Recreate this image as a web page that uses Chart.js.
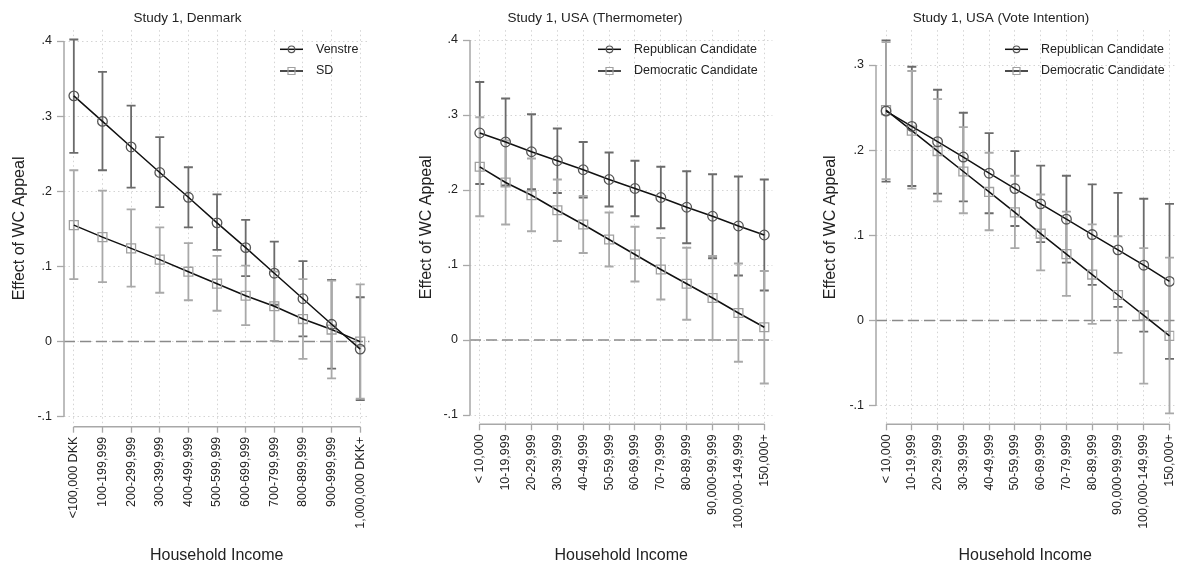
<!DOCTYPE html>
<html>
<head>
<meta charset="utf-8">
<script src="https://cdn.jsdelivr.net/npm/chart.js@4.4.1/dist/chart.umd.min.js"></script>
<style>
  body { margin: 0; background: #fff; }
  #wrap { position: relative; width: 1182px; height: 564px; }
  canvas { position: absolute; top: 0; }
</style>
</head>
<body>
<div id="wrap">
  <canvas id="dkChart" width="377" height="564" style="left:0px"></canvas>
  <canvas id="thermChart" width="370" height="564" style="left:410px"></canvas>
  <canvas id="voteChart" width="362" height="564" style="left:820px"></canvas>
</div>
<script>
// income categories
const dkIncome = ['<100,000 DKK', '100-199,999', '200-299,999', '300-399,999', '400-499,999', '500-599,999',
    '600-699,999', '700-799,999', '800-899,999', '900-999,999', '1,000,000 DKK+'];
const usIncome = ['< 10,000', '10-19,999', '20-29,999', '30-39,999', '40-49,999', '50-59,999', '60-69,999',
    '70-79,999', '80-89,999', '90,000-99,999', '100,000-149,999', '150,000+'];

// y ticks
const dkTicks = [0.4, 0.3, 0.2, 0.1, 0, -0.1];
const dkTickLabels = ['.4', '.3', '.2', '.1', '0', '-.1'];
const thermTicks = [0.4, 0.3, 0.2, 0.1, 0, -0.1];
const thermTickLabels = ['.4', '.3', '.2', '.1', '0', '-.1'];
const voteTicks = [0.3, 0.2, 0.1, 0, -0.1];
const voteTickLabels = ['.3', '.2', '.1', '0', '-.1'];

// Study 1, Denmark
const venstreEst = [0.327, 0.293, 0.259, 0.225, 0.192, 0.158, 0.125, 0.091, 0.057, 0.023, -0.010];
const venstreHi  = [0.402, 0.359, 0.314, 0.272, 0.232, 0.196, 0.162, 0.133, 0.107, 0.082, 0.059];
const venstreLo  = [0.251, 0.228, 0.205, 0.179, 0.152, 0.122, 0.087, 0.049, 0.007, -0.036, -0.078];
const sdEst = [0.155, 0.139, 0.124, 0.109, 0.093, 0.077, 0.061, 0.047, 0.030, 0.016, 0.000];
const sdHi  = [0.228, 0.201, 0.176, 0.152, 0.131, 0.114, 0.101, 0.093, 0.083, 0.081, 0.076];
const sdLo  = [0.083, 0.079, 0.073, 0.065, 0.055, 0.041, 0.022, 0.001, -0.023, -0.049, -0.076];

// Study 1, USA (Thermometer)
const thermRepEst = [0.276, 0.264, 0.251, 0.239, 0.227, 0.214, 0.202, 0.190, 0.177, 0.165, 0.152, 0.140];
const thermRepHi  = [0.344, 0.322, 0.301, 0.282, 0.264, 0.250, 0.239, 0.231, 0.225, 0.221, 0.218, 0.214];
const thermRepLo  = [0.208, 0.206, 0.201, 0.196, 0.190, 0.178, 0.165, 0.149, 0.129, 0.109, 0.086, 0.066];
const thermDemEst = [0.231, 0.210, 0.193, 0.173, 0.154, 0.134, 0.114, 0.094, 0.075, 0.056, 0.036, 0.017];
const thermDemHi  = [0.297, 0.266, 0.242, 0.214, 0.192, 0.170, 0.151, 0.136, 0.123, 0.112, 0.102, 0.092];
const thermDemLo  = [0.165, 0.154, 0.145, 0.132, 0.116, 0.098, 0.078, 0.054, 0.027, 0.000, -0.029, -0.058];

// Study 1, USA (Vote Intention)
const voteRepEst = [0.246, 0.228, 0.210, 0.192, 0.173, 0.155, 0.137, 0.119, 0.101, 0.083, 0.065, 0.046];
const voteRepHi  = [0.329, 0.298, 0.271, 0.244, 0.220, 0.199, 0.182, 0.170, 0.160, 0.150, 0.143, 0.137];
const voteRepLo  = [0.163, 0.158, 0.149, 0.140, 0.126, 0.111, 0.092, 0.068, 0.042, 0.016, -0.013, -0.045];
const voteDemEst = [0.247, 0.223, 0.199, 0.175, 0.151, 0.127, 0.102, 0.078, 0.054, 0.030, 0.006, -0.018];
const voteDemHi  = [0.327, 0.293, 0.260, 0.227, 0.197, 0.170, 0.148, 0.128, 0.113, 0.099, 0.085, 0.074];
const voteDemLo  = [0.166, 0.155, 0.140, 0.126, 0.106, 0.085, 0.059, 0.029, -0.004, -0.038, -0.074, -0.109];

const FONT = "'Liberation Sans', Arial, sans-serif";
const DARK = '#6b6b6b';
const LIGHT = '#a9a9a9';

function series(label, est, lo, hi, dark) {
    return {
        label: label,
        data: est.map((v, i) => ({ x: i, y: v })),
        ciLow: lo,
        ciHigh: hi,
        ciColor: dark ? DARK : LIGHT,
        borderColor: '#111',
        borderWidth: 1.5,
        tension: 0,
        fill: false,
        pointStyle: dark ? 'circle' : 'rect',
        pointRadius: dark ? 4.8 : 6.3,
        pointBorderWidth: 1.3,
        pointBorderColor: dark ? '#555' : '#a0a0a0',
        pointBackgroundColor: 'rgba(0,0,0,0)'
    };
}

// CIs, zero line, axis lines and the legend, Stata style
const stataPlugin = {
    id: 'stata',
    beforeDatasetsDraw(chart) {
        const { ctx, chartArea } = chart;
        const x = chart.scales.x, y = chart.scales.y;
        const o = chart.options.plugins.stata;
        ctx.save();
        const y0 = y.getPixelForValue(0);
        ctx.strokeStyle = '#8a8a8a';
        ctx.lineWidth = 1.5;
        ctx.setLineDash([11, 5]);
        ctx.beginPath();
        ctx.moveTo(chartArea.left, y0);
        ctx.lineTo(chartArea.right, y0);
        ctx.stroke();
        ctx.setLineDash([]);

        // axis lines
        ctx.strokeStyle = '#a8a8a8';
        ctx.lineWidth = 1.5;
        ctx.beginPath();
        ctx.moveTo(chartArea.left, y.getPixelForValue(Math.max(...o.yTicks)));
        ctx.lineTo(chartArea.left, y.getPixelForValue(Math.min(...o.yTicks)));
        ctx.moveTo(x.getPixelForValue(0), chartArea.bottom);
        ctx.lineTo(x.getPixelForValue(o.nCat - 1), chartArea.bottom);
        ctx.stroke();

        // error bars (second series on top)
        chart.data.datasets.forEach(ds => {
            ctx.strokeStyle = ds.ciColor;
            ctx.lineWidth = 1.8;
            ds.ciLow.forEach((lo, i) => {
                const px = x.getPixelForValue(i);
                const pl = y.getPixelForValue(lo);
                const ph = y.getPixelForValue(ds.ciHigh[i]);
                ctx.beginPath();
                ctx.moveTo(px, pl);
                ctx.lineTo(px, ph);
                ctx.moveTo(px - 4.5, pl);
                ctx.lineTo(px + 4.5, pl);
                ctx.moveTo(px - 4.5, ph);
                ctx.lineTo(px + 4.5, ph);
                ctx.stroke();
            });
        });
        ctx.restore();
    },
    afterDatasetsDraw(chart) {
        const ctx = chart.ctx;
        const o = chart.options.plugins.stata;
        ctx.save();
        chart.data.datasets.forEach((ds, i) => {
            const ly = o.legendY[i];
            ctx.strokeStyle = '#111';
            ctx.lineWidth = 1.5;
            ctx.beginPath();
            ctx.moveTo(o.legendX, ly);
            ctx.lineTo(o.legendX + 23, ly);
            ctx.stroke();
            const cx = o.legendX + 11.5;
            ctx.fillStyle = '#fff';
            ctx.strokeStyle = ds.pointBorderColor;
            ctx.lineWidth = 1.2;
            ctx.beginPath();
            if (ds.pointStyle === 'circle') {
                ctx.arc(cx, ly, 3.3, 0, Math.PI * 2);
            } else {
                ctx.rect(cx - 3.5, ly - 3.5, 7, 7);
            }
            ctx.stroke();
            ctx.fillStyle = '#222';
            ctx.font = '12.5px ' + FONT;
            ctx.textBaseline = 'middle';
            ctx.fillText(ds.label, o.legendX + 36, ly);
        });
        ctx.restore();
    }
};

function makePanel(id, p) {
    return new Chart(document.getElementById(id).getContext('2d'), {
        type: 'line',
        data: { datasets: p.datasets },
        plugins: [stataPlugin],
        options: {
            responsive: false,
            animation: false,
            layout: { padding: { right: p.padRight } },
            scales: {
                x: {
                    type: 'linear',
                    min: p.xMin,
                    max: p.xMax,
                    afterBuildTicks: s => { s.ticks = p.cats.map((_, i) => ({ value: i })); },
                    afterFit: s => { s.height = p.xHeight; s.paddingLeft = 0; s.paddingRight = 0; },
                    ticks: {
                        autoSkip: false,
                        minRotation: 90,
                        maxRotation: 90,
                        padding: 4,
                        color: '#222',
                        font: { family: FONT, size: 12.5 },
                        callback: v => p.cats[v]
                    },
                    grid: { color: '#d4d4d4', tickColor: '#a8a8a8', tickLength: 6, tickWidth: 1.3 },
                    border: { display: false, dash: [1.5, 3] },
                    title: {
                        display: true,
                        text: 'Household Income',
                        color: '#222',
                        font: { family: FONT, size: 16 },
                        padding: { top: 0, bottom: -1.5 }
                    }
                },
                y: {
                    type: 'linear',
                    min: p.yMin,
                    max: p.yMax,
                    afterBuildTicks: s => { s.ticks = p.yTicks.map(v => ({ value: v })); },
                    afterFit: s => { s.width = p.yWidth; s.paddingTop = 0; s.paddingBottom = 0; },
                    ticks: {
                        padding: 5,
                        color: '#222',
                        font: { family: FONT, size: 12.5 },
                        callback: (v, i) => p.yTickLabels[i]
                    },
                    grid: { color: '#d4d4d4', tickColor: '#a8a8a8', tickLength: 7, tickWidth: 1.3 },
                    border: { display: false, dash: [1.5, 3] },
                    title: {
                        display: true,
                        text: 'Effect of WC Appeal',
                        color: '#222',
                        font: { family: FONT, size: 16 },
                        padding: { top: p.yTitlePad, bottom: 0 }
                    }
                }
            },
            plugins: {
                legend: { display: false },
                tooltip: { enabled: false },
                title: {
                    display: true,
                    text: p.title,
                    color: '#222',
                    font: { family: FONT, size: 13.5, weight: 'normal' },
                    padding: { top: 10, bottom: 4 }
                },
                stata: {
                    yTicks: p.yTicks,
                    nCat: p.cats.length,
                    legendX: p.legendX,
                    legendY: [49.3, 71]
                }
            }
        }
    });
}

const dkChart = makePanel('dkChart', {
    title: 'Study 1, Denmark',
    cats: dkIncome,
    yTicks: dkTicks, yTickLabels: dkTickLabels,
    datasets: [
        series('Venstre', venstreEst, venstreLo, venstreHi, true),
        series('SD', sdEst, sdLo, sdHi, false)
    ],
    xMin: -0.343, xMax: 10.32, yMin: -0.1133, yMax: 0.4144,
    yWidth: 64, xHeight: 137.3, padRight: 2, yTitlePad: 10, legendX: 280
});

const thermChart = makePanel('thermChart', {
    title: 'Study 1, USA (Thermometer)',
    cats: usIncome,
    yTicks: thermTicks, yTickLabels: thermTickLabels,
    datasets: [
        series('Republican Candidate', thermRepEst, thermRepLo, thermRepHi, true),
        series('Democratic Candidate', thermDemEst, thermDemLo, thermDemHi, false)
    ],
    xMin: -0.377, xMax: 11.313, yMin: -0.1124, yMax: 0.4131,
    yWidth: 60, xHeight: 139.7, padRight: 0, yTitlePad: 7.4, legendX: 188
});

const voteChart = makePanel('voteChart', {
    title: 'Study 1, USA (Vote Intention)',
    cats: usIncome,
    yTicks: voteTicks, yTickLabels: voteTickLabels,
    datasets: [
        series('Republican Candidate', voteRepEst, voteRepLo, voteRepHi, true),
        series('Democratic Candidate', voteDemEst, voteDemLo, voteDemHi, false)
    ],
    xMin: -0.39, xMax: 11.19, yMin: -0.1218, yMax: 0.3409,
    yWidth: 56, xHeight: 139.7, padRight: 0, yTitlePad: 1, legendX: 185
});
</script>
</body>
</html>
